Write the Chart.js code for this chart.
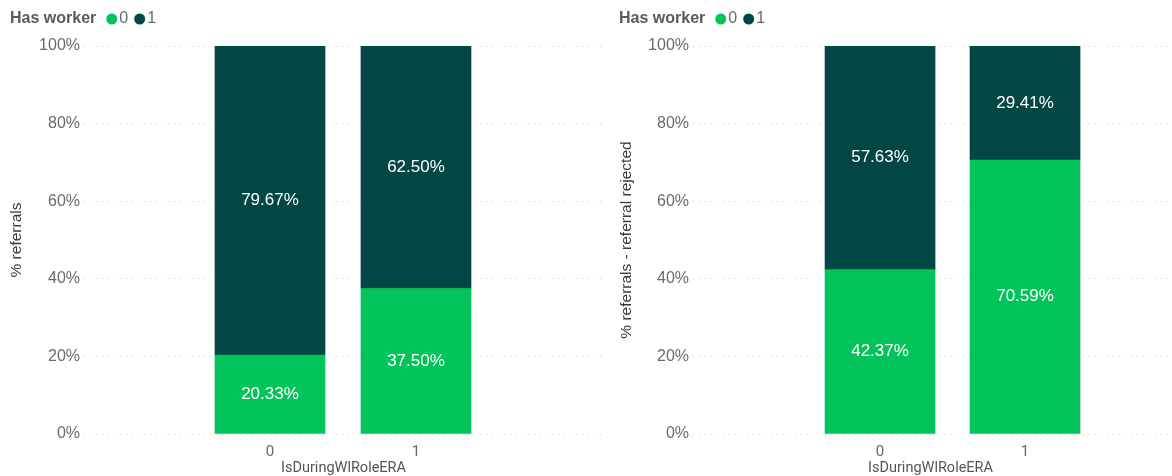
<!DOCTYPE html>
<html>
<head>
<meta charset="utf-8">
<title>Has worker by IsDuringWlRoleERA</title>
<script src="https://cdn.jsdelivr.net/npm/chart.js@4.4.1/dist/chart.umd.min.js"></script>
<style>
  html, body { margin: 0; padding: 0; background: #ffffff; }
  body { width: 1172px; height: 476px; position: relative; overflow: hidden; }
  canvas { position: absolute; top: 0; }
  #referrals { left: 0; }
  #rejected { left: 606px; }
</style>
</head>
<body>
<canvas id="referrals" width="606" height="476"></canvas>
<canvas id="rejected" width="566" height="476"></canvas>
<script>
// Categories on the x axis and the legend series
const categories = [0, 1];
const seriesNames = ['0', '1'];
const legendTitle = 'Has worker';
const xAxisTitle = 'IsDuringWlRoleERA';

// % referrals, split by Has worker
const referralsNoWorker = [20.33, 37.50];
const referralsWorker = [79.67, 62.50];

// % referrals - referral rejected, split by Has worker
const rejectedNoWorker = [42.37, 70.59];
const rejectedWorker = [57.63, 29.41];

// Value-axis ticks
const yTicks = [0, 20, 40, 60, 80, 100];

const GREEN = '#02c45a';
const DARK = '#034744';
const BASE_FONT = '"Liberation Sans", Arial, sans-serif';

// Writes each segment's value in the middle of its bar segment
const segmentLabels = {
  id: 'segmentLabels',
  afterDatasetsDraw(chart) {
    const ctx = chart.ctx;
    ctx.save();
    ctx.fillStyle = '#ffffff';
    ctx.font = '17px ' + BASE_FONT;
    ctx.textAlign = 'center';
    ctx.textBaseline = 'middle';
    chart.data.datasets.forEach((ds, di) => {
      const meta = chart.getDatasetMeta(di);
      meta.data.forEach((bar, i) => {
        const v = ds.data[i].y;
        const y = (bar.y + bar.base) / 2;
        ctx.fillText(v.toFixed(2) + '%', bar.x, y);
      });
    });
    ctx.restore();
  }
};

// Inline legend: bold title followed by a dot and name per series
const inlineLegend = {
  id: 'inlineLegend',
  afterDraw(chart, args, opts) {
    const ctx = chart.ctx;
    const y = 19;
    const r = 5.5;
    ctx.save();
    ctx.textBaseline = 'middle';
    ctx.textAlign = 'left';
    ctx.font = 'bold 16px ' + BASE_FONT;
    ctx.fillStyle = '#5a5a5a';
    ctx.fillText(legendTitle, opts.x, y);
    let x = opts.x + ctx.measureText(legendTitle).width + 10;
    ctx.font = '16px ' + BASE_FONT;
    chart.data.datasets.forEach((ds) => {
      ctx.beginPath();
      ctx.arc(x + r, y, r, 0, Math.PI * 2);
      ctx.fillStyle = ds.backgroundColor;
      ctx.fill();
      x += 2 * r + 2;
      ctx.fillStyle = '#6a6a6a';
      ctx.fillText(ds.label, x, y);
      x += ctx.measureText(ds.label).width + 6;
    });
    ctx.restore();
  }
};

function toPoints(values) {
  return categories.map((c, i) => ({ x: c, y: values[i] }));
}

function buildChart(id, yTitle, zeroValues, oneValues, frame) {
  return new Chart(document.getElementById(id), {
    type: 'bar',
    data: {
      datasets: [
        { label: seriesNames[0], data: toPoints(zeroValues), backgroundColor: GREEN, barThickness: 110 },
        { label: seriesNames[1], data: toPoints(oneValues), backgroundColor: DARK, barThickness: 110 }
      ]
    },
    options: {
      responsive: false,
      animation: false,
      devicePixelRatio: 1,
      layout: { padding: { top: 46, right: frame.padRight, bottom: 0, left: 0 } },
      plugins: {
        legend: { display: false },
        tooltip: { enabled: false },
        inlineLegend: { x: frame.legendX }
      },
      scales: {
        x: {
          type: 'linear',
          stacked: true,
          offset: false,
          min: frame.xMin,
          max: frame.xMax,
          afterBuildTicks: (s) => { s.ticks = categories.map(v => ({ value: v })); },
          afterFit: (s) => { s.height = 42; },
          grid: { display: false, drawTicks: false },
          border: { display: false },
          ticks: {
            padding: 9,
            color: '#666666',
            font: { family: 'Roboto, ' + BASE_FONT, size: 15 },
            callback: (v) => String(v)
          },
          title: {
            display: true,
            text: xAxisTitle,
            color: '#555555',
            font: { family: 'Roboto, ' + BASE_FONT, size: 14.5 },
            padding: { top: 0, bottom: -1 }
          }
        },
        y: {
          stacked: true,
          min: 0,
          max: 100,
          afterBuildTicks: (s) => { s.ticks = yTicks.map(v => ({ value: v })); },
          afterFit: (s) => { s.width = frame.axisWidth; },
          grid: {
            color: 'rgba(0,0,0,0.18)',
            lineWidth: 1,
            drawTicks: false
          },
          border: { display: false, dash: [1, 5] },
          ticks: {
            padding: 4,
            color: '#6a6a6a',
            font: { family: BASE_FONT, size: 16 },
            callback: (v) => v + '%'
          },
          title: {
            display: true,
            text: yTitle,
            color: '#3a3a3a',
            font: { family: BASE_FONT, size: 15.5 },
            padding: { top: frame.titlePad, bottom: 0 }
          }
        }
      }
    },
    plugins: [segmentLabels, inlineLegend]
  });
}

buildChart('referrals', '% referrals', referralsNoWorker, referralsWorker,
  { padRight: 3, axisWidth: 84, xMin: -1.274, xMax: 2.281, legendX: 10, titlePad: 7 });

buildChart('rejected', '% referrals - referral rejected', rejectedNoWorker, rejectedWorker,
  { padRight: 4, axisWidth: 87, xMin: -1.29, xMax: 1.986, legendX: 13, titlePad: 11 });
</script>
</body>
</html>
